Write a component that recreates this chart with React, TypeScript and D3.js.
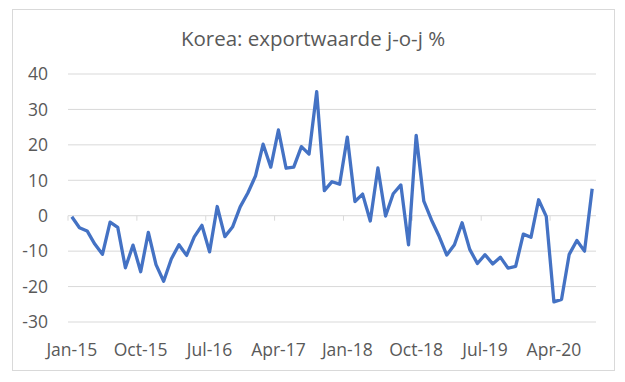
import React from "react";
import * as d3 from "d3";

const months: string[] = (() => {
  const names = ["Jan","Feb","Mar","Apr","May","Jun","Jul","Aug","Sep","Oct","Nov","Dec"];
  const out: string[] = [];
  for (let y = 15; y <= 20; y++) for (const n of names) out.push(`${n}-${y}`);
  return out.slice(0, 69);
})();

const exportYoY: number[] = [
  -0.3, -3.4, -4.3, -8.0, -10.9, -1.8, -3.3, -14.7, -8.3, -15.8, -4.7, -13.8,
  -18.5, -12.2, -8.2, -11.2, -6.0, -2.7, -10.2, 2.6, -5.9, -3.2, 2.5, 6.4,
  11.2, 20.2, 13.7, 24.2, 13.4, 13.7, 19.5, 17.4, 35.0, 7.1, 9.6, 8.9,
  22.2, 4.0, 6.1, -1.5, 13.5, -0.1, 6.2, 8.7, -8.2, 22.7, 4.1, -1.2,
  -5.8, -11.1, -8.2, -2.0, -9.5, -13.5, -11.0, -13.6, -11.7, -14.8, -14.3, -5.2,
  -6.1, 4.5, -0.2, -24.3, -23.6, -10.9, -7.0, -10.0, 7.6,
];

const yTicks: number[] = [40, 30, 20, 10, 0, -10, -20, -30];
const xTickLabels: string[] = ["Jan-15", "Oct-15", "Jul-16", "Apr-17", "Jan-18", "Oct-18", "Jul-19", "Apr-20"];

const W = 625;
const H = 382;
const plotLeft = 68;
const plotRight = 596;
const plotTop = 74;
const plotBottom = 322;
const textColor = "#595959";
const font = "'Open Sans', 'Liberation Sans', sans-serif";

export default function App() {
  const x = d3.scaleBand<string>().domain(months).range([plotLeft, plotRight]).padding(0);
  const y = d3.scaleLinear().domain([-30, 40]).range([plotBottom, plotTop]);
  const cx = (m: string) => (x(m) ?? 0) + x.bandwidth() / 2;

  const line = d3
    .line<number>()
    .x((_, i) => cx(months[i]))
    .y((d) => y(d));

  const tickBoundaries = d3.range(0, months.length, 9).map((i) => x(months[i]) ?? 0);

  return (
    <svg
      width={W}
      height={H}
      style={{ position: "absolute", left: 0, top: 0, background: "#fff" }}
    >
      <rect x={12.5} y={9.5} width={602} height={361} fill="#fff" stroke="#d9d9d9" strokeWidth={1} />
      <text
        x={313}
        y={46}
        textAnchor="middle"
        fontFamily={font}
        fontSize={20.5}
        fill={textColor}
      >
        Korea: exportwaarde j-o-j %
      </text>
      {yTicks.map((t) => (
        <g key={t}>
          <line x1={plotLeft} x2={plotRight} y1={y(t)} y2={y(t)} stroke="#d9d9d9" strokeWidth={1} />
          <text
            x={48}
            y={y(t)}
            dy="0.36em"
            textAnchor="end"
            fontFamily={font}
            fontSize={17.5}
            fill={textColor}
          >
            {t}
          </text>
        </g>
      ))}
      {tickBoundaries.map((bx, i) => (
        <line key={i} x1={bx} x2={bx} y1={y(0)} y2={y(0) + 5} stroke="#d9d9d9" strokeWidth={1} />
      ))}
      {xTickLabels.map((lab) => (
        <text
          key={lab}
          x={cx(lab)}
          y={356}
          textAnchor="middle"
          fontFamily={font}
          fontSize={17.5}
          fill={textColor}
        >
          {lab}
        </text>
      ))}
      <path d={line(exportYoY) ?? ""} fill="none" stroke="#4472C4" strokeWidth={3.3} strokeLinejoin="round" />
    </svg>
  );
}
